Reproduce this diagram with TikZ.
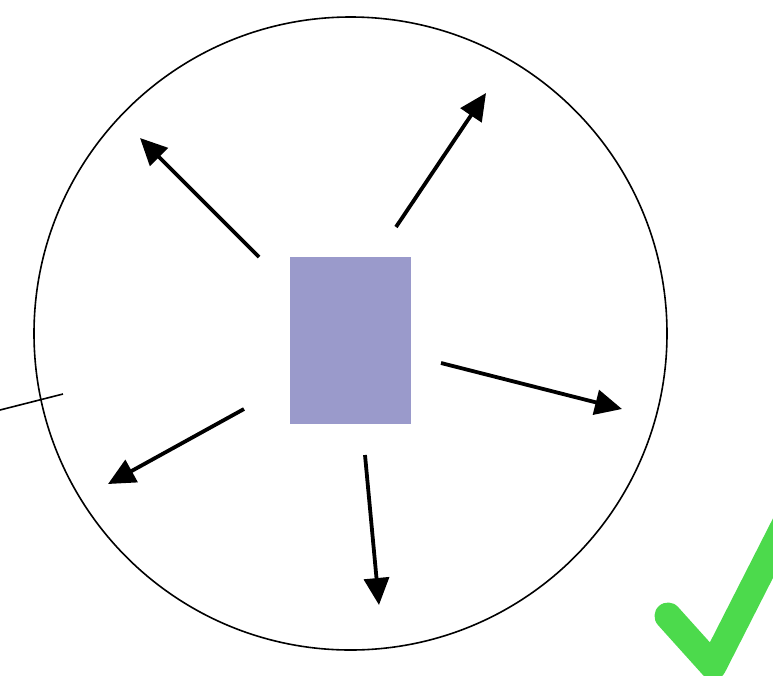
\documentclass[tikz,border=0pt]{standalone}
\usetikzlibrary{arrows.meta}
\definecolor{boxfill}{HTML}{9A9ACB}
\definecolor{checkgreen}{HTML}{4CDA4C}
\tikzset{
  ray/.style={line width=3.8pt, -{Triangle[length=27pt,width=25pt]}},
  thinline/.style={line width=1.6pt}
}
\begin{document}
\begin{tikzpicture}[x=1pt,y=-1pt]
\useasboundingbox (0,0) rectangle (773,675);
\clip (0,0) rectangle (773,675);
\node[draw, thinline, circle, minimum size=633pt, inner sep=0pt] (c) at (350.5,333.5) {};
\node[fill=boxfill, minimum width=121pt, minimum height=167pt, inner sep=0pt] (b) at (350.5,340.5) {};
\coordinate (s1) at (259,257); \coordinate (t1) at (140,138);
\coordinate (s2) at (396,227); \coordinate (t2) at (486,93);
\coordinate (s3) at (441,363); \coordinate (t3) at (622,409);
\coordinate (s4) at (244,409); \coordinate (t4) at (108,484);
\coordinate (s5) at (365,455); \coordinate (t5) at (379,605);
\draw[ray] (s1) -- (t1);
\draw[ray] (s2) -- (t2);
\draw[ray] (s3) -- (t3);
\draw[ray] (s4) -- (t4);
\draw[ray] (s5) -- (t5);
\coordinate (l1) at (0,410); \coordinate (l2) at (63,394);
\draw[thinline] (l1) -- (l2);
\coordinate (k1) at (668,616); \coordinate (k2) at (713,666); \coordinate (k3) at (800,495);
\draw[checkgreen, line width=27pt, line cap=round, line join=round] (k1) -- (k2) -- (k3);
\end{tikzpicture}
\end{document}
